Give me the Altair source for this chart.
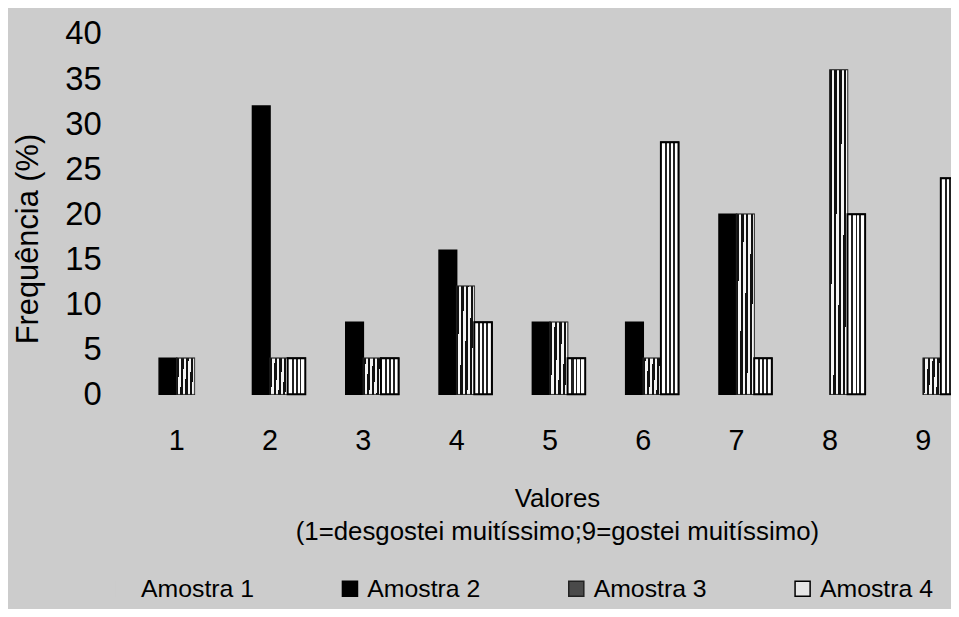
import altair as alt
import pandas as pd

valores = [1, 2, 3, 4, 5, 6, 7, 8, 9]
amostras = ["Amostra 1", "Amostra 2", "Amostra 3", "Amostra 4"]
amostra1 = [0, 0, 0, 0, 0, 0, 0, 0, 0]
amostra2 = [4, 32, 8, 16, 8, 8, 20, 0, 0]
amostra3 = [4, 4, 4, 12, 8, 4, 20, 36, 4]
amostra4 = [0, 4, 4, 8, 4, 28, 4, 20, 24]
y_ticks = [0, 5, 10, 15, 20, 25, 30, 35, 40]

rows = []
for name, serie in zip(amostras, [amostra1, amostra2, amostra3, amostra4]):
    for v, f in zip(valores, serie):
        rows.append({"Valor": v, "Amostra": name, "Freq": f})
df = pd.DataFrame(rows)

FONT = "Liberation Sans"
BG = "#cccccc"

x_enc = alt.X(
    "Valor:O",
    scale=alt.Scale(range=[0, 846], paddingInner=0.245, paddingOuter=0.1225, round=False),
    axis=alt.Axis(
        labelAngle=0, domain=False, ticks=False, labelFontSize=29,
        labelPadding=33, labelColor="black", labelFont=FONT,
        title=["Valores", "(1=desgostei muitíssimo;9=gostei muitíssimo)"],
        titleFontSize=26, titleFontWeight="normal", titleFont=FONT,
        titleColor="black", titleX=430, titlePadding=30, titleLineHeight=33,
    ),
)
xoff_enc = alt.XOffset("Amostra:N", scale=alt.Scale(domain=amostras, paddingInner=0, paddingOuter=0, round=False))
y_enc = alt.Y(
    "Freq:Q",
    scale=alt.Scale(domain=[0, 40], nice=False),
    axis=alt.Axis(
        values=y_ticks, domain=False, ticks=False, grid=False,
        labelFontSize=33, labelPadding=29, labelColor="black", labelFont=FONT,
        title="Frequência (%)", titleFontSize=31, titleFontWeight="normal",
        titleFont=FONT, titleColor="black", titleX=-102, titleY=206,
        titleBaseline="middle",
    ),
)

base = alt.Chart(df).encode(x=x_enc, xOffset=xoff_enc, y=y_enc).transform_filter(
    alt.datum.Freq > 0
)

bars = base.mark_bar(strokeWidth=1.5).encode(
    color=alt.Color(
        "Amostra:N",
        scale=alt.Scale(domain=amostras, range=[BG, "#000000", "#4a4a4a", "#e6e6e6"]),
        legend=alt.Legend(
            title=None, orient="none", direction="horizontal", columns=4,
            legendX=-19, legendY=546, symbolType="square", symbolSize=230,
            labelFontSize=25, labelFont=FONT, labelColor="black",
            labelOffset=5, columnPadding=84, symbolStrokeWidth=1.5,
        ),
    ),
    stroke=alt.Stroke(
        "Amostra:N",
        scale=alt.Scale(domain=amostras, range=[BG, "#000000", "#222222", "#000000"]),
    ),
)

hatch = alt.Gradient(
    gradient="linear", x1=0, y1=0, x2=1, y2=0.06,
    stops=[
        alt.GradientStop(color="#111111", offset=0.0),
        alt.GradientStop(color="#111111", offset=0.13),
        alt.GradientStop(color="#f4f4f4", offset=0.13),
        alt.GradientStop(color="#f4f4f4", offset=0.26),
        alt.GradientStop(color="#111111", offset=0.26),
        alt.GradientStop(color="#111111", offset=0.4),
        alt.GradientStop(color="#f4f4f4", offset=0.4),
        alt.GradientStop(color="#f4f4f4", offset=0.53),
        alt.GradientStop(color="#111111", offset=0.53),
        alt.GradientStop(color="#111111", offset=0.67),
        alt.GradientStop(color="#f4f4f4", offset=0.67),
        alt.GradientStop(color="#f4f4f4", offset=0.8),
        alt.GradientStop(color="#111111", offset=0.8),
        alt.GradientStop(color="#111111", offset=0.93),
        alt.GradientStop(color="#f4f4f4", offset=0.93),
        alt.GradientStop(color="#f4f4f4", offset=1.0),
    ],
)
dots = alt.Gradient(
    gradient="linear", x1=0, y1=0, x2=1, y2=0,
    stops=[
        alt.GradientStop(color="#ffffff", offset=0.0),
        alt.GradientStop(color="#ffffff", offset=0.22),
        alt.GradientStop(color="#222222", offset=0.22),
        alt.GradientStop(color="#222222", offset=0.34),
        alt.GradientStop(color="#ffffff", offset=0.34),
        alt.GradientStop(color="#ffffff", offset=0.46),
        alt.GradientStop(color="#222222", offset=0.46),
        alt.GradientStop(color="#222222", offset=0.56),
        alt.GradientStop(color="#ffffff", offset=0.56),
        alt.GradientStop(color="#ffffff", offset=0.68),
        alt.GradientStop(color="#222222", offset=0.68),
        alt.GradientStop(color="#222222", offset=0.78),
        alt.GradientStop(color="#ffffff", offset=0.78),
        alt.GradientStop(color="#ffffff", offset=1.0),
    ],
)

l3 = base.mark_bar(fill=hatch, stroke="#222222", strokeWidth=0.5).transform_filter(
    alt.datum.Amostra == "Amostra 3"
)
l4 = base.mark_bar(fill=dots, stroke="#000000", strokeWidth=2).transform_filter(
    alt.datum.Amostra == "Amostra 4"
)

chart = alt.layer(bars, l3, l4).properties(
    width=827, height=363,
    autosize=alt.AutoSizeParams(type="none"),
    padding={"left": 123, "top": 24, "right": 0, "bottom": 214},
    background=BG,
).configure_view(stroke=None)

chart.save("out.html", embed_options={"renderer": "svg", "actions": False})
